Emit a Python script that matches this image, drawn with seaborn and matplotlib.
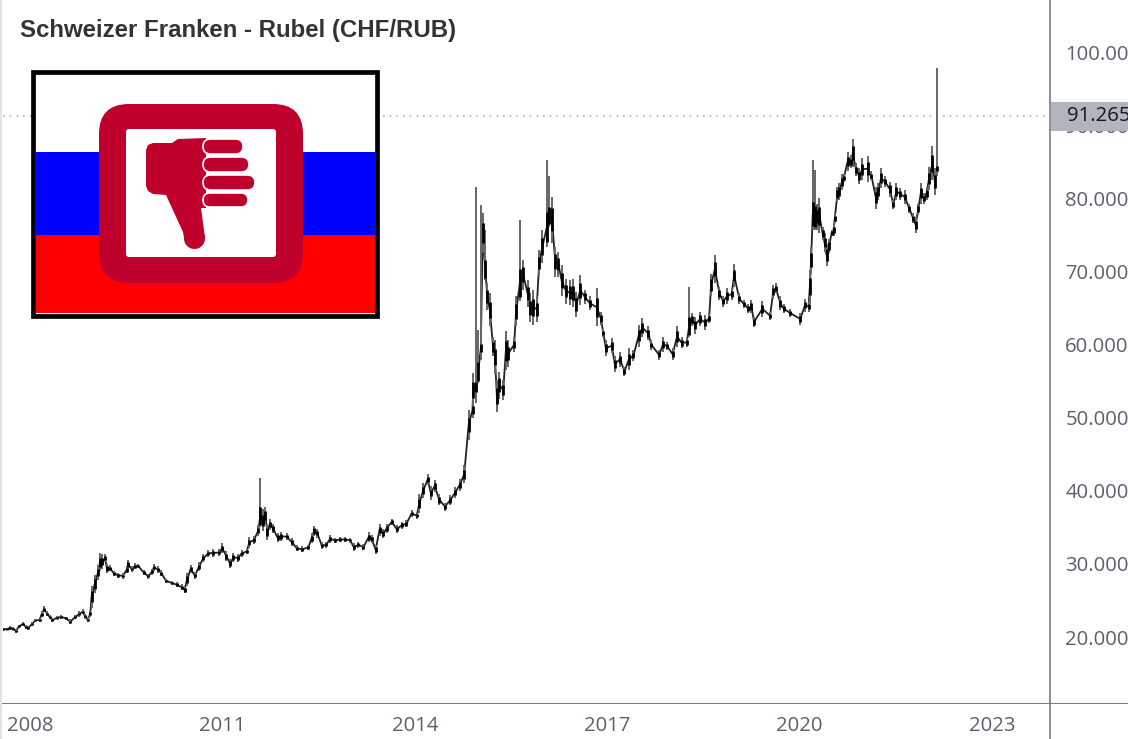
import matplotlib
matplotlib.use("Agg")
import matplotlib.pyplot as plt
from matplotlib.patches import Circle, FancyBboxPatch, Polygon, Rectangle
import pandas as pd
import seaborn as sns

# decimal year, low, high
early_years = [2007.58, 2007.64, 2007.69, 2007.74, 2007.78, 2007.83, 2007.89, 2007.94, 2007.97, 2008.03,
               2008.08, 2008.15, 2008.18, 2008.22, 2008.27, 2008.31, 2008.35, 2008.42, 2008.49, 2008.56,
               2008.63, 2008.70, 2008.77, 2008.82, 2008.86, 2008.90, 2008.94, 2008.96, 2009.01, 2009.06,
               2009.09, 2009.13, 2009.17, 2009.20, 2009.25, 2009.31, 2009.38, 2009.445, 2009.51, 2009.53,
               2009.585, 2009.64, 2009.69, 2009.77, 2009.845, 2009.90, 2009.93, 2010.00, 2010.05, 2010.12,
               2010.21, 2010.29, 2010.365, 2010.41, 2010.45, 2010.505, 2010.57, 2010.635, 2010.70, 2010.78,
               2010.86, 2010.94, 2011.00, 2011.06, 2011.12, 2011.17, 2011.25, 2011.30, 2011.38, 2011.42,
               2011.49, 2011.56, 2011.59, 2011.64, 2011.67, 2011.70, 2011.74, 2011.79, 2011.86, 2011.92,
               2012.00, 2012.08, 2012.16, 2012.24, 2012.34, 2012.39, 2012.43, 2012.48, 2012.55, 2012.62,
               2012.68, 2012.76, 2012.83, 2012.91, 2012.99, 2013.05, 2013.12, 2013.20, 2013.28, 2013.33,
               2013.39, 2013.45, 2013.51, 2013.56, 2013.64, 2013.72, 2013.80, 2013.87, 2013.95, 2014.03,
               2014.07, 2014.13, 2014.20, 2014.25, 2014.31, 2014.38, 2014.47, 2014.55, 2014.63, 2014.70,
               2014.77]
early_low = [20.8, 20.9, 21.0, 20.9, 20.6, 21.2, 21.5, 21.1, 21.0, 21.5,
             22.0, 22.1, 22.7, 23.4, 22.9, 22.4, 22.0, 22.4, 22.5, 22.3,
             21.8, 22.4, 22.8, 23.1, 22.5, 22.0, 22.8, 24.0, 26.0, 27.8,
             29.0, 29.3, 30.2, 28.7, 29.0, 28.3, 28.1, 28.0, 28.7, 29.3,
             28.9, 29.3, 29.4, 28.5, 28.0, 28.5, 29.0, 28.8, 28.3, 27.4,
             27.1, 26.8, 26.4, 26.0, 27.0, 28.8, 27.9, 29.0, 30.2, 31.0,
             31.0, 31.1, 31.5, 30.4, 29.4, 30.2, 30.3, 31.0, 31.3, 32.2,
             32.7, 33.8, 35.0, 34.5, 35.5, 33.3, 34.6, 34.2, 33.0, 33.2,
             33.3, 32.5, 31.7, 31.6, 31.9, 32.8, 33.8, 33.6, 32.0, 32.2,
             32.9, 32.8, 33.0, 33.0, 32.9, 31.8, 32.2, 31.9, 33.0, 32.8,
             31.3, 33.8, 33.5, 34.2, 35.3, 34.2, 34.8, 35.0, 36.4, 36.2,
             37.0, 39.0, 40.8, 38.8, 39.8, 38.0, 37.3, 38.0, 39.0, 40.0,
             41.0]
early_high = [21.3, 21.3, 21.5, 21.4, 21.1, 21.7, 22.1, 21.6, 21.5, 22.0,
              22.5, 22.6, 23.5, 24.2, 23.5, 23.0, 22.6, 22.9, 23.0, 22.8,
              22.4, 23.0, 23.5, 23.8, 23.2, 22.7, 23.6, 27.0, 28.5, 29.8,
              31.5, 31.3, 31.3, 30.0, 29.8, 29.0, 28.8, 28.7, 29.7, 30.6,
              29.7, 30.1, 30.0, 29.2, 28.6, 29.3, 30.0, 29.7, 29.1, 28.0,
              27.7, 27.5, 27.2, 26.9, 28.8, 29.8, 28.9, 30.2, 31.3, 31.9,
              32.0, 32.0, 32.8, 31.7, 30.7, 31.5, 31.4, 31.9, 32.1, 33.7,
              33.8, 35.3, 41.8, 37.5, 37.8, 35.5, 36.2, 35.5, 34.2, 34.3,
              34.2, 33.5, 32.6, 32.4, 32.6, 34.2, 35.2, 34.8, 33.0, 33.0,
              34.0, 33.6, 33.7, 33.7, 33.6, 32.8, 33.0, 32.7, 34.3, 33.9,
              32.6, 35.5, 34.8, 35.5, 36.2, 35.3, 35.8, 36.0, 37.4, 37.0,
              39.5, 41.0, 42.3, 40.6, 41.5, 39.6, 38.4, 39.4, 40.5, 41.6,
              43.5]

mid_years = [2014.84, 2014.90, 2014.91, 2014.95, 2014.99, 2015.03, 2015.06, 2015.10, 2015.13, 2015.17,
             2015.22, 2015.25, 2015.28, 2015.32, 2015.38, 2015.42, 2015.46, 2015.55, 2015.58, 2015.64,
             2015.69, 2015.76, 2015.80, 2015.85, 2015.90, 2015.94, 2015.99, 2016.06, 2016.09, 2016.14,
             2016.19, 2016.24, 2016.29, 2016.36, 2016.42, 2016.47, 2016.52, 2016.58, 2016.65, 2016.73,
             2016.84, 2016.90, 2016.94, 2016.98, 2017.07, 2017.12, 2017.20, 2017.27, 2017.34, 2017.41,
             2017.49, 2017.55, 2017.64, 2017.69, 2017.81, 2017.87, 2017.93, 2018.02, 2018.09, 2018.16,
             2018.24, 2018.28, 2018.32, 2018.37, 2018.45, 2018.53, 2018.59, 2018.62, 2018.68, 2018.75,
             2018.81, 2018.87, 2018.94, 2018.98, 2019.06, 2019.13, 2019.20, 2019.25, 2019.29, 2019.42,
             2019.54, 2019.59, 2019.63, 2019.70]
mid_low = [47.0, 49.9, 51.5, 52.0, 54.7, 57.9, 72.5, 68.8, 64.7, 62.5,
           58.4, 56.0, 50.8, 52.6, 52.4, 56.5, 57.0, 59.0, 62.5, 66.0,
           67.5, 65.2, 63.1, 62.7, 63.1, 69.5, 71.1, 73.4, 76.1, 73.9,
           69.3, 69.3, 66.6, 65.6, 65.4, 65.2, 63.8, 65.4, 65.6, 64.7,
           62.5, 62.7, 61.0, 58.4, 58.8, 56.3, 57.0, 55.7, 56.5, 57.7,
           59.7, 61.0, 60.6, 59.3, 57.9, 59.0, 59.3, 57.9, 59.7, 59.5,
           59.7, 61.0, 62.5, 61.5, 62.5, 62.0, 62.9, 66.6, 68.4, 66.1,
           65.2, 65.6, 66.1, 67.9, 65.6, 65.0, 64.3, 64.3, 62.4, 63.8,
           63.4, 66.3, 67.0, 64.7]
mid_high = [51.0, 52.2, 56.1, 81.5, 62.0, 79.1, 78.0, 75.7, 68.4, 67.0,
            61.0, 60.6, 55.2, 56.3, 55.2, 61.8, 60.6, 61.0, 66.6, 77.0,
            71.6, 68.8, 67.0, 67.5, 66.6, 72.9, 75.7, 85.3, 83.0, 80.2,
            73.4, 72.7, 70.9, 69.0, 68.8, 69.0, 67.2, 69.5, 67.5, 66.6,
            67.7, 64.5, 62.2, 60.6, 60.9, 58.4, 59.0, 57.0, 59.5, 59.3,
            62.7, 63.6, 62.5, 60.6, 59.3, 61.0, 60.4, 59.5, 62.5, 61.0,
            60.9, 67.9, 64.3, 63.8, 64.5, 64.0, 64.3, 69.7, 72.3, 67.9,
            66.6, 67.7, 67.7, 71.0, 67.0, 66.1, 65.6, 66.1, 63.8, 66.0,
            64.5, 68.2, 68.4, 66.6]

late_years = [2019.75, 2019.85, 2020.01, 2020.085, 2020.14, 2020.16, 2020.18, 2020.205, 2020.235, 2020.27,
              2020.31, 2020.36, 2020.39, 2020.42, 2020.46, 2020.50, 2020.53, 2020.55, 2020.59, 2020.62,
              2020.66, 2020.69, 2020.75, 2020.80, 2020.83, 2020.88, 2020.93, 2020.98, 2021.06, 2021.12,
              2021.19, 2021.23, 2021.27, 2021.33, 2021.41, 2021.46, 2021.51, 2021.57, 2021.64, 2021.71,
              2021.77, 2021.81, 2021.85, 2021.89, 2021.94, 2021.98, 2022.02, 2022.07, 2022.11, 2022.14]
late_low = [64.3, 63.8, 62.7, 64.5, 64.5, 65.6, 69.7, 75.7, 75.7, 75.7,
            75.2, 74.3, 72.7, 70.7, 72.5, 74.8, 74.8, 76.6, 79.6, 79.8,
            81.2, 82.3, 83.7, 84.1, 84.3, 83.0, 82.0, 82.5, 82.3, 82.5,
            78.6, 79.8, 81.4, 81.6, 80.2, 78.5, 79.8, 79.8, 79.3, 78.0,
            76.6, 75.3, 77.7, 79.3, 79.3, 79.8, 81.2, 82.5, 80.5, 83.0]
late_high = [65.6, 64.9, 64.3, 66.3, 65.9, 70.2, 73.4, 85.3, 83.9, 79.3,
             80.0, 76.1, 75.2, 73.8, 74.5, 75.7, 76.6, 78.0, 81.6, 82.1,
             83.4, 83.4, 86.4, 85.9, 88.1, 84.8, 84.1, 85.5, 85.8, 83.7,
             81.6, 82.1, 84.1, 83.0, 82.3, 79.8, 82.1, 81.4, 81.1, 79.3,
             78.0, 77.5, 79.3, 82.1, 80.7, 81.6, 84.3, 87.1, 84.1, 97.8]

y_ticks = [20, 30, 40, 50, 60, 70, 80, 90, 100]
x_ticks = [2008, 2011, 2014, 2017, 2020, 2023]
last_price = 91.265

df = pd.DataFrame({
    "year": early_years + mid_years + late_years,
    "low": early_low + mid_low + late_low,
    "high": early_high + mid_high + late_high,
})
span = df["high"] - df["low"]
# long wicks have their body at the bottom, short bars in the middle
spike = span > 6.5
huge = span > 14
df["body_low"] = (df["low"] + span * 0.25).where(~spike, df["low"] + span * 0.05)
df["body_high"] = (df["high"] - span * 0.25).where(~spike, df["low"] + span * 0.4)
df["body_high"] = df["body_high"].where(~huge, df["low"] + span * 0.1)
df["mid"] = (df["body_low"] + df["body_high"]) / 2

sns.set_theme(style="white")
plt.rcParams["font.family"] = ["Liberation Sans", "DejaVu Sans"]

W, H = 1128, 739
grey = "#5d606b"
fig = plt.figure(figsize=(W / 100, H / 100), dpi=100, facecolor="white")
ax = fig.add_axes([3 / W, (H - 702) / H, 1047 / W, 702 / H])

sns.lineplot(data=df, x="year", y="mid", color="#222222", linewidth=1.3, ax=ax, errorbar=None, estimator=None)
ax.vlines(df["year"], df["low"], df["high"], color="#666666", linewidth=1.4)
ax.vlines(df["year"], df["body_low"], df["body_high"], color="black", linewidth=2.0)
ax.axhline(last_price, color="#b2b5be", linewidth=1.2, linestyle=(0, (1, 3)), zorder=0)

ax.set_xlim(2007.579, 2023.905)
ax.set_ylim(11.11, 107.14)
ax.set_xlabel("")
ax.set_ylabel("")
ax.set_xticks(x_ticks)
ax.set_xticklabels([str(y) for y in x_ticks], family="Open Sans")
ax.yaxis.tick_right()
ax.set_yticks(y_ticks)
ax.set_yticklabels([f"{v:.3f}" for v in y_ticks], family="Open Sans")
ax.tick_params(axis="both", length=0, labelsize=14.6, labelcolor=grey)
ax.tick_params(axis="y", pad=11)
ax.tick_params(axis="x", pad=10)
for s in ["top", "left", "bottom"]:
    ax.spines[s].set_visible(False)
ax.spines["right"].set_color("#787b86")
ax.spines["right"].set_linewidth(1.2)

# overlay in pixel coordinates for the flag, price tag and strips
ov = fig.add_axes([0, 0, 1, 1], facecolor="none")
ov.set_xlim(0, W)
ov.set_ylim(H, 0)
ov.axis("off")
ov.add_patch(Rectangle((0, 0), 2, H, color="#e0e3ef", lw=0))
ov.add_patch(Rectangle((2, 702.6), W, 1.4, color="#787b86", lw=0))
ov.plot([1050, 1050], [702, H], color="#787b86", lw=1.2)
ov.add_patch(Rectangle((1051, 102), 77, 29, color="#b2b5be", lw=0))
ov.text(1067, 116, f"{last_price:.3f}", fontsize=14.6, family="Open Sans", color="#131722", va="center", ha="left")
ov.text(20, 30, "Schweizer Franken - Rubel (CHF/RUB)", fontsize=17.3, fontweight="bold", color="#333333", va="center")

# russian flag with thumbs down badge
ov.add_patch(Rectangle((33.4, 72.4), 343.2, 243.2, facecolor="white", edgecolor="black", lw=3.4, zorder=3))
ov.add_patch(Rectangle((36, 152), 339, 83, color="#0000ff", lw=0, zorder=3))
ov.add_patch(Rectangle((36, 235), 339, 78, color="#ff0000", lw=0, zorder=3))
crimson = "#bf002d"
ov.add_patch(FancyBboxPatch((125, 130), 152, 127, boxstyle="round,pad=26,rounding_size=30", fc=crimson, ec="none", zorder=4))
ov.add_patch(FancyBboxPatch((128, 131), 146, 124, boxstyle="round,pad=2,rounding_size=3", fc="white", ec="none", zorder=5))
thumb = [(146, 150), (148, 145), (153, 143), (172, 143), (178, 139), (206, 138), (206, 208), (201, 208),
         (205, 238), (184, 238), (183, 232), (166, 195), (153, 194), (148, 191), (146, 186)]
ov.add_patch(Polygon(thumb, closed=True, fc=crimson, ec="none", zorder=6))
ov.add_patch(Circle((194.5, 238.5), 10.5, fc=crimson, ec="none", zorder=6))
for x1, y1, y2 in [(243, 139, 154), (249, 157, 172), (255, 175, 190), (248, 193, 207)]:
    h = y2 - y1
    ov.add_patch(FancyBboxPatch((203 + h / 2, y1 + h / 2), x1 - 203 - h, 0, boxstyle=f"round,pad={h / 2},rounding_size={h / 2}",
                                fc=crimson, ec="white", lw=1.2, zorder=7))

fig.savefig("out.png", dpi=100)
